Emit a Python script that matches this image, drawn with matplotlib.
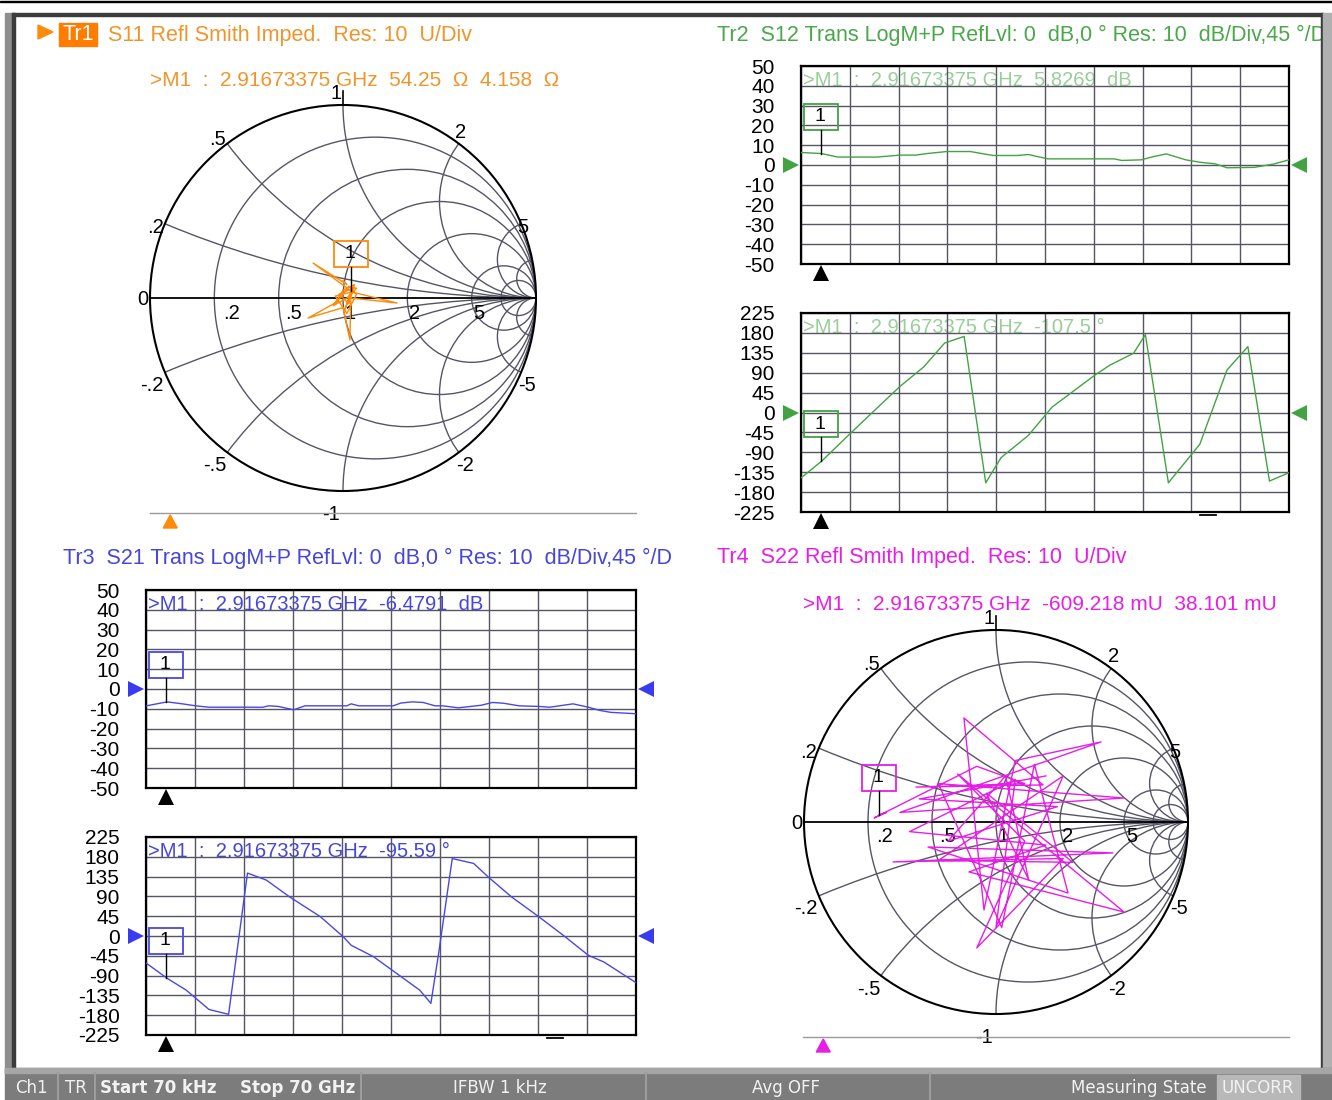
import numpy as np
import matplotlib
matplotlib.use("Agg")
import matplotlib.pyplot as plt
import matplotlib.transforms as mtransforms
from matplotlib.patches import Circle, Rectangle, Polygon

# ---------------- data ----------------
FREQ_MARKER = 2.91673375  # GHz
F_START, F_STOP = 0.0, 70.0

mag_ticks = [50, 40, 30, 20, 10, 0, -10, -20, -30, -40, -50]
ph_ticks = [225, 180, 135, 90, 45, 0, -45, -90, -135, -180, -225]

# Tr2  S12 magnitude (dB)
f_s12_mag = [0.07, 2.9, 5.3, 10.9, 14.2, 16.5, 18.1, 20.9, 24.3, 25.9, 27.6, 31.0, 32.6,
             35.4, 44.9, 46.0, 48.8, 50.5, 52.4, 55.2, 57.2, 59.4, 61.1, 65.0, 67.8, 70.0]
s12_mag = [6.3, 5.8, 4.0, 4.0, 5.0, 5.0, 5.8, 6.8, 6.8, 5.8, 4.8, 4.8, 5.3,
           3.1, 3.1, 2.3, 2.6, 4.2, 5.6, 2.6, 1.4, 0.6, -1.4, -1.2, 0.5, 2.6]

# Tr2  S12 phase (deg)
f_s12_ph = [0.07, 2.96, 6.97, 10.3, 14.2, 17.6, 20.6, 23.4, 26.5, 28.7, 32.6, 36.0,
            42.1, 44.3, 47.7, 49.4, 52.7, 57.2, 61.1, 64.1, 67.2, 70.0]
s12_ph = [-147, -110, -49, 1, 59, 103, 157, 172, -159, -102, -52, 12,
          84, 107, 134, 176, -159, -72, 96, 149, -155, -136]

# Tr3  S21 magnitude (dB)
f_s21_mag = [0.07, 3.0, 5.2, 7.1, 9.0, 16.7, 17.5, 18.9, 21.1, 22.7, 28.7, 29.3, 30.4,
             35.3, 36.4, 38.0, 39.6, 41.3, 42.4, 44.6, 47.9, 49.5, 51.1, 53.3, 56.1,
             57.7, 61.0, 63.2, 64.8, 66.4, 70.0]
s21_mag = [-8.5, -6.5, -7.5, -8.5, -9.2, -9.2, -8.5, -8.8, -10.5, -8.5, -8.5, -7.5, -8.5,
           -8.5, -7.1, -6.5, -6.8, -8.5, -8.5, -9.5, -8.2, -6.8, -7.2, -8.5, -8.8,
           -9.2, -7.5, -9.2, -10.8, -11.8, -12.5]

# Tr3  S21 phase (deg)
f_s21_ph = [0.07, 3.0, 5.74, 9.0, 11.8, 14.5, 17.2, 20.5, 24.9, 28.2, 29.3, 32.5, 35.8,
            39.1, 40.7, 41.8, 43.75, 46.8, 48.9, 52.2, 56.1, 59.9, 63.2, 65.4, 70.0]
s21_ph = [-62, -96, -123, -167, -178, 143, 127, 89, 44, -2, -21, -47, -85,
          -123, -153, -40, 176, 165, 134, 89, 44, -2, -44, -59, -106]

# Tr1  S11 reflection coefficient (Smith)
s11_re = [0.00, 0.02, -0.155, 0.05, 0.28, 0.04, 0.036, 0.00, -0.181, -0.03, 0.03, 0.07,
          0.02, -0.05, 0.00, 0.06, 0.03, -0.02, 0.05, 0.01, 0.04, -0.04, 0.02, 0.07, 0.03]
s11_im = [0.09, 0.07, 0.181, 0.03, -0.026, 0.00, -0.218, -0.05, -0.104, -0.02, 0.06, 0.05,
          0.00, -0.04, 0.04, 0.07, -0.03, 0.02, 0.05, -0.06, 0.03, 0.01, -0.08, 0.02, 0.06]
s11_marker = (0.0423, 0.0382)

# Tr4  S22 reflection coefficient (Smith)
s22_re = [-0.609, -0.57, -0.635, -0.10, 0.15, -0.417, 0.245, -0.167, -0.0625, 0.10, 0.547,
          -0.50, 0.667, -0.30, 0.03, 0.20, 0.375, -0.354, 0.609, -0.536, 0.35, -0.10, 0.15,
          -0.20, 0.667, -0.141, 0.26, -0.45, 0.10, 0.0, 0.35, -0.30, 0.40, -0.05, 0.17,
          0.05, -0.25, 0.32, -0.40, 0.26]
s22_im = [0.038, 0.05, 0.021, 0.29, 0.20, 0.182, 0.193, 0.542, -0.458, 0.32, 0.417,
          0.05, 0.125, 0.20, -0.55, 0.30, -0.37, -0.13, -0.161, -0.208, -0.19, -0.656, -0.10,
          0.25, -0.469, -0.26, -0.12, -0.05, 0.22, -0.547, 0.24, -0.20, -0.21, 0.15, -0.30,
          0.24, -0.10, 0.08, 0.12, 0.24]
s22_marker = (-0.609218, 0.038101)

r_circles = [0.2, 0.5, 1, 2, 5, 10]
x_arcs = [0.2, 0.5, 1, 2, 5, 10, -0.2, -0.5, -1, -2, -5, -10]
smith_labels = ['1', '.5', '2', '.2', '0', '.2', '.5', '1', '2', '5', '5',
                '-.2', '-5', '-.5', '-2', '-1']

# ---------------- style ----------------
W, H = 1332, 1100
FONT = ['Liberation Sans', 'DejaVu Sans']
GRID = '#555565'
ORANGE, ORANGE_TXT = '#ff8a0a', '#f0952c'
GREEN, GREEN_TXT, GREEN_LT = '#43a343', '#4aa84a', '#98cf98'
BLUE, BLUE_TXT = '#4848e4', '#4646dc'
MAGENTA = '#e61ee6'
label_pos = [(-0.036, 1.06), (-0.648, 0.819), (0.611, 0.860), (-0.974, 0.363),
             (-1.036, -0.01), (-0.580, -0.078), (-0.254, -0.078), (0.036, -0.078),
             (0.373, -0.078), (0.705, -0.078), (0.933, 0.363), (-0.990, -0.451),
             (0.953, -0.451), (-0.663, -0.870), (0.632, -0.870), (-0.062, -1.124)]

plt.rcParams['font.family'] = FONT
fig = plt.figure(figsize=(W / 100, H / 100), dpi=100)
fig.patch.set_facecolor('white')

bg = fig.add_axes([0, 0, 1, 1])
bg.set_xlim(0, W); bg.set_ylim(H, 0); bg.axis('off')

panels = []


def to_px(ax, x, y):
    d = ax.transData.transform((x, y))
    return d[0], H - d[1]


def rect_panel(box, f, v, ticks, color, mcolor, mtext, arrow_color):
    x0, y0, x1, y1 = box
    ax = fig.add_axes([x0 / W, 1 - y1 / H, (x1 - x0) / W, (y1 - y0) / H])
    ax.set_xlim(F_START, F_STOP)
    ax.set_ylim(min(ticks), max(ticks))
    ax.set_xticks(np.linspace(F_START, F_STOP, 11))
    ax.set_xticklabels([])
    ax.set_yticks(ticks)
    ax.set_yticklabels([str(t) for t in ticks], fontsize=15)
    ax.tick_params(length=0, pad=19)
    ax.grid(True, color=GRID, lw=1.0)
    for s in ax.spines.values():
        s.set_color('black'); s.set_linewidth(1.6)
    ax.text(0.004, 1 - 14.5 / (y1 - y0), mtext, transform=ax.transAxes, color=mcolor,
            fontsize=14.5, va='center', ha='left', zorder=1)
    ax.plot(f, v, color=color, lw=1.0, zorder=3)
    tr = mtransforms.blended_transform_factory(ax.transAxes, ax.transData)
    ax.plot([-0.021], [0], marker='>', ms=11, color=arrow_color, transform=tr, clip_on=False, mew=0)
    ax.plot([1.021], [0], marker='<', ms=11, color=arrow_color, transform=tr, clip_on=False, mew=0)
    tr2 = mtransforms.blended_transform_factory(ax.transData, ax.transAxes)
    ax.plot([FREQ_MARKER], [-0.045], marker='^', ms=11, color='black', transform=tr2,
            clip_on=False, mew=0)
    vm = float(np.interp(FREQ_MARKER, f, v))
    panels.append((ax, FREQ_MARKER, vm, color))
    return ax


def smith_panel(cx, cy, R, re, im, mk, color):
    ax = fig.add_axes([(cx - 1.2 * R) / W, 1 - (cy + 1.2 * R) / H, 2.4 * R / W, 2.4 * R / H])
    ax.set_xlim(-1.2, 1.2); ax.set_ylim(-1.2, 1.2); ax.axis('off')
    ax.patch.set_visible(False)
    clip = Circle((0, 0), 1, transform=ax.transData)
    for r in r_circles:
        c = Circle((r / (1 + r), 0), 1 / (1 + r), fill=False, ec=GRID, lw=1.0)
        ax.add_patch(c); c.set_clip_path(clip)
    for x in x_arcs:
        c = Circle((1, 1 / x), 1 / abs(x), fill=False, ec=GRID, lw=1.0)
        ax.add_patch(c); c.set_clip_path(clip)
    ax.plot([-1, 1], [0, 0], color='black', lw=1.3)
    ax.add_patch(Circle((0, 0), 1, fill=False, ec='black', lw=1.5))
    ax.plot([0, 0], [1.0, 1.075], color='black', lw=1.2, clip_on=False)
    for lab, (gx, gy) in zip(smith_labels, label_pos):
        ax.text(gx, gy, lab, fontsize=14.5, ha='center', va='center', color='black', clip_on=False)
    ax.plot(re, im, color=color, lw=1.0, zorder=3)
    panels.append((ax, mk[0], mk[1], color))
    return ax


# ---------- header texts ----------
bg.add_patch(Polygon([(38, 25), (53, 32), (38, 39)], closed=True, color=ORANGE))
bg.add_patch(Rectangle((59, 23), 38, 23, color='#ff7c00'))
bg.text(78, 35, 'Tr1', color='white', fontsize=15.5, ha='center', va='center')
bg.text(108, 35, 'S11 Refl Smith Imped.  Res: 10  U/Div', color=ORANGE_TXT, fontsize=15.5,
        va='center', ha='left')
bg.text(150, 81, '>M1  :  2.91673375 GHz  54.25  Ω  4.158  Ω', color=ORANGE_TXT, fontsize=15,
        va='center', ha='left')
bg.text(717, 35, 'Tr2  S12 Trans LogM+P RefLvl: 0  dB,0 ° Res: 10  dB/Div,45 °/D',
        color=GREEN_TXT, fontsize=15.5, va='center', ha='left')
bg.text(63, 558, 'Tr3  S21 Trans LogM+P RefLvl: 0  dB,0 ° Res: 10  dB/Div,45 °/D',
        color=BLUE_TXT, fontsize=15.5, va='center', ha='left')
bg.text(717, 558, 'Tr4  S22 Refl Smith Imped.  Res: 10  U/Div', color=MAGENTA, fontsize=15.5,
        va='center', ha='left')
bg.text(803, 604, '>M1  :  2.91673375 GHz  -609.218 mU  38.101 mU', color=MAGENTA, fontsize=15,
        va='center', ha='left')

# ---------- panels ----------
rect_panel((801, 66, 1289, 264), f_s12_mag, s12_mag, mag_ticks, GREEN, GREEN_LT,
           '>M1  :  2.91673375 GHz  5.8269  dB', GREEN)
rect_panel((801, 313, 1289, 512), f_s12_ph, s12_ph, ph_ticks, GREEN, GREEN_LT,
           '>M1  :  2.91673375 GHz  -107.5 °', GREEN)
rect_panel((146, 590, 636, 788), f_s21_mag, s21_mag, mag_ticks, BLUE, BLUE_TXT,
           '>M1  :  2.91673375 GHz  -6.4791  dB', '#3a3af0')
rect_panel((146, 837, 636, 1035), f_s21_ph, s21_ph, ph_ticks, BLUE, BLUE_TXT,
           '>M1  :  2.91673375 GHz  -95.59 °', '#3a3af0')
smith_panel(343, 298, 193, s11_re, s11_im, s11_marker, ORANGE)
smith_panel(996, 822, 192, s22_re, s22_im, s22_marker, MAGENTA)

# ---------- overlay ----------
ov = fig.add_axes([0, 0, 1, 1], zorder=20)
ov.set_xlim(0, W); ov.set_ylim(H, 0); ov.axis('off')
ov.patch.set_visible(False)

for ax, mx, my, col in panels:
    px, py = to_px(ax, mx, my)
    ov.add_patch(Rectangle((px - 17, py - 50), 34, 26, fill=False, ec=col, lw=1.3))
    ov.text(px - 1, py - 37, '1', fontsize=14, ha='center', va='center', color='black')
    ov.plot([px, px], [py - 24, py], color='black', lw=1.0)

# small dashes under phase plots
for (x0, x1, yb) in [(801, 1289, 512), (146, 636, 1035)]:
    xd = x0 + (x1 - x0) * 58.4 / 70
    ov.plot([xd - 8, xd + 8], [yb + 3, yb + 3], color='black', lw=1.3)

# stimulus lines under smith charts
for (x0, x1, yl, col) in [(150, 636, 513, ORANGE), (803, 1289, 1037, MAGENTA)]:
    ov.plot([x0, x1], [yl, yl], color='#9a9a9a', lw=1.0)
    xm = x0 + (x1 - x0) * FREQ_MARKER / F_STOP
    ov.add_patch(Polygon([(xm - 7, yl + 15), (xm + 7, yl + 15), (xm, yl + 2)], closed=True,
                         color=col))

# ---------- frame ----------
ov.add_patch(Rectangle((0, 0.5), W, 1.8, color='black'))
ov.add_patch(Rectangle((5, 13), 8, 1060, color='#8e8e8e'))
ov.add_patch(Rectangle((12, 13), 2.5, 1055, color='#3c3c3c'))
ov.add_patch(Rectangle((12, 13), 1311, 2.5, color='#3c3c3c'))
ov.add_patch(Rectangle((1321, 13), 2, 1055, color='#3c3c3c'))
ov.add_patch(Rectangle((1323, 13), 9, 1060, color='#b0b0b0'))

# ---------- status bar ----------
ov.add_patch(Rectangle((5, 1068), W - 5, 32, color='#7c7c7c'))
ov.add_patch(Rectangle((5, 1068), W - 5, 5, color='#a6a6a6'))
for xs in [58, 95, 361, 646, 930]:
    ov.plot([xs, xs], [1073, 1100], color='#9c9c9c', lw=1.5)
ov.add_patch(Rectangle((1217, 1075), 83, 25, color='#b8b8b8'))
SB = dict(color='#f2f2f2', fontsize=12, va='center', family=['DejaVu Sans'])
ov.text(15, 1088, 'Ch1', ha='left', **SB)
ov.text(65, 1088, 'TR', ha='left', **SB)
ov.text(100, 1088, 'Start 70 kHz', ha='left', fontweight='bold', **SB)
ov.text(240, 1088, 'Stop 70 GHz', ha='left', fontweight='bold', **SB)
ov.text(500, 1088, 'IFBW 1 kHz', ha='center', **SB)
ov.text(786, 1088, 'Avg OFF', ha='center', **SB)
ov.text(1207, 1088, 'Measuring State', ha='right', **SB)
ov.text(1258, 1088, 'UNCORR', ha='center', **SB)

fig.savefig('out.png', dpi=100)
